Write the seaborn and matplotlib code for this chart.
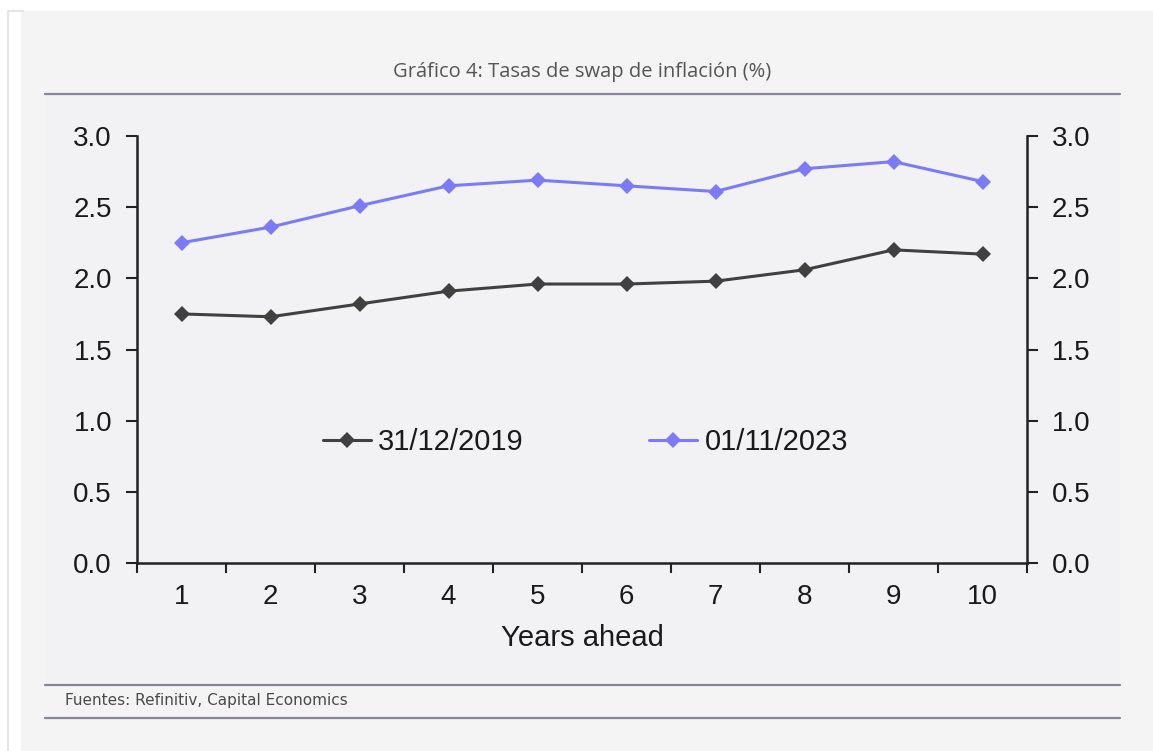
import matplotlib
matplotlib.use("Agg")
import matplotlib.pyplot as plt
import matplotlib.patches as mpatches
import matplotlib.lines as mlines
import seaborn as sns
import pandas as pd
import numpy as np

# ---- data ----
years = [1, 2, 3, 4, 5, 6, 7, 8, 9, 10]
series_2019 = [1.75, 1.73, 1.82, 1.91, 1.96, 1.96, 1.98, 2.06, 2.20, 2.17]
series_2023 = [2.25, 2.36, 2.51, 2.65, 2.69, 2.65, 2.61, 2.77, 2.82, 2.68]
labels = ["31/12/2019", "01/11/2023"]
y_ticks = [0.0, 0.5, 1.0, 1.5, 2.0, 2.5, 3.0]
title = "Gráfico 4: Tasas de swap de inflación (%)"
source = "Fuentes: Refinitiv, Capital Economics"
xlabel = "Years ahead"

df = pd.DataFrame({
    "year": years * 2,
    "value": series_2019 + series_2023,
    "series": [labels[0]] * len(years) + [labels[1]] * len(years),
})

sns.set_theme(style="white")
plt.rcParams["font.family"] = ["Liberation Sans", "DejaVu Sans"]

W, H = 1153, 751
fig = plt.figure(figsize=(W / 100, H / 100), dpi=100)
fig.patch.set_facecolor("white")

def fx(px):
    return px / W

def fy(py):
    return 1 - py / H

# outer panel
fig.patches.append(mpatches.Rectangle((fx(21), 0), 1 - fx(21), fy(11), transform=fig.transFigure,
                                      facecolor="#f4f4f4", edgecolor="none", zorder=-5))
fig.patches.append(mpatches.Rectangle((fx(45), fy(685)), fx(1120) - fx(45), fy(94) - fy(685),
                                      transform=fig.transFigure, facecolor="#f2f2f4",
                                      edgecolor="none", zorder=-4))
# left border lines
fig.add_artist(mlines.Line2D([fx(7.5), fx(7.5)], [0, fy(11)], transform=fig.transFigure,
                             color="#e2e2e2", lw=1.2, zorder=-3))
fig.add_artist(mlines.Line2D([fx(7.5), fx(23)], [fy(11), fy(11)], transform=fig.transFigure,
                             color="#e2e2e2", lw=1.2, zorder=-3))

# separator lines
for py in (94, 685, 718):
    fig.add_artist(mlines.Line2D([fx(45), fx(1120)], [fy(py), fy(py)], transform=fig.transFigure,
                                 color="#85869a", lw=1.6, zorder=-3))

fig.text(fx(582), fy(72), title, ha="center", va="center", fontsize=14.5,
         family=["Open Sans", "DejaVu Sans"], color="#555555")
fig.text(fx(65), fy(701), source, ha="left", va="center", fontsize=11,
         family=["DejaVu Sans"], color="#4a4a4a")

ax = fig.add_axes([fx(137), fy(563), fx(1027) - fx(137), fy(136) - fy(563)])
ax.set_facecolor("none")
ax.set_zorder(2)

sns.lineplot(data=df, x="year", y="value", hue="series", hue_order=labels,
             palette=["#404040", "#7b7bf7"], marker="D", markersize=8.5,
             markeredgewidth=0, linewidth=2.2, ax=ax)

ax.set_xlim(0.5, 10.5)
ax.set_ylim(0, 3.0)
ax.set_yticks(y_ticks)
ax.set_yticklabels([f"{v:.1f}" for v in y_ticks])
ax.set_xticks(years)
ax.set_xticklabels([str(y) for y in years])
ax.set_xticks(np.arange(0.5, 11, 1.0), minor=True)

for side in ("left", "right", "bottom"):
    ax.spines[side].set_visible(True)
    ax.spines[side].set_color("#222222")
    ax.spines[side].set_linewidth(1.8)
ax.spines["top"].set_visible(False)

ax.yaxis.set_ticks_position("both")
ax.tick_params(axis="y", which="major", direction="out", length=8, width=1.5,
               color="#222222", labelsize=20, labelcolor="#1a1a1a", pad=10,
               left=True, right=True, labelleft=True, labelright=True)
ax.tick_params(axis="x", which="major", length=0, labelsize=20, labelcolor="#1a1a1a", pad=15)
ax.tick_params(axis="x", which="minor", direction="out", length=7, width=1.5,
               color="#222222", bottom=True)

ax.set_xlabel(xlabel, fontsize=21, color="#1a1a1a", labelpad=10)
ax.set_ylabel("")

handles, lbls = ax.get_legend_handles_labels()
ax.legend(handles, lbls, ncol=2, frameon=False, loc="center",
          bbox_to_anchor=(0.504, 0.283), fontsize=21, handlelength=1.65,
          handletextpad=0.25, columnspacing=4.3, labelcolor="#1a1a1a")

fig.savefig("out.png", dpi=100, facecolor=fig.get_facecolor())
